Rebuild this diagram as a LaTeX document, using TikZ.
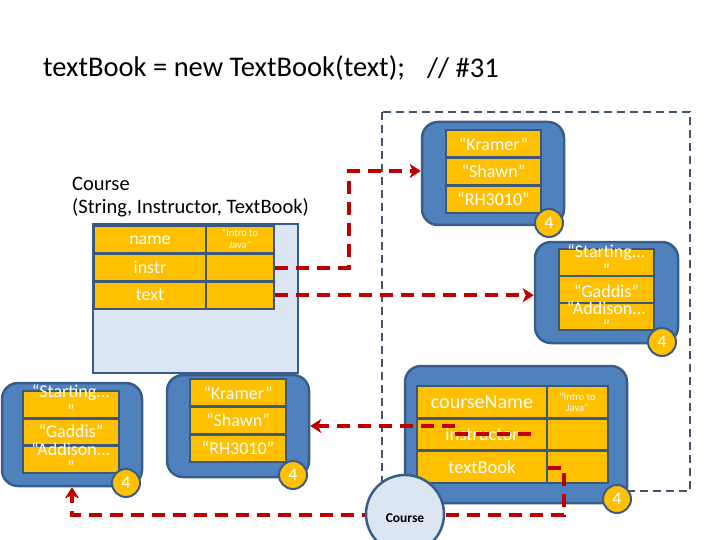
\documentclass[tikz,border=0pt]{standalone}
\usepackage{fontspec}
\setmainfont{Carlito}
\usetikzlibrary{arrows.meta}
\definecolor{objblue}{HTML}{4F81BD}
\definecolor{objline}{HTML}{385D8A}
\definecolor{cellyel}{HTML}{FFC000}
\definecolor{cellline}{HTML}{3B5878}
\definecolor{arrred}{HTML}{C00000}
\definecolor{framefill}{HTML}{DCE6F2}
\definecolor{dashblue}{HTML}{44546A}
\tikzset{
  obj/.style={draw=objline, fill=objblue, line width=2.5pt, rounded corners=16pt, inner sep=0pt},
  cell/.style={draw=cellline, fill=cellyel, line width=2.5pt, inner sep=0pt, text=white, font=\fontsize{18}{20}\selectfont},
  celltxt/.style={text=white, inner sep=0pt, font=\fontsize{18}{20}\selectfont},
  smalltxt/.style={text=white, inner sep=0pt, font=\fontsize{10.5}{11.5}\selectfont, align=center},
  badge/.style={circle, draw=objline, fill=cellyel, line width=2pt, minimum size=28pt, inner sep=0pt, text=white, font=\fontsize{18}{20}\selectfont},
  redarrow/.style={draw=arrred, line width=4pt, dash pattern=on 13pt off 8pt, -{Stealth[length=11pt,width=14pt,inset=3pt]}},
  label/.style={inner sep=0pt, anchor=west, text=black}
}
\begin{document}
\begin{tikzpicture}[x=1pt,y=-1pt]
\useasboundingbox (0,0) rectangle (720,540);
\fill[white] (0,0) rectangle (720,540);

% title
\node[label, font=\fontsize{28.5}{32}\selectfont] (title) at (43,68) {textBook = new TextBook(text);};
\node[label, font=\fontsize{28.5}{32}\selectfont] (comment) at (427,68) {// \#31};

% dashed frame
\draw[dashblue, line width=2.5pt, dash pattern=on 8pt off 5pt] (382,112) rectangle (690,491);

% Course label
\node[label, font=\fontsize{20.5}{23}\selectfont] (clabel1) at (72,184) {Course};
\node[label, font=\fontsize{20.5}{23}\selectfont] (clabel2) at (72,208) {(String, Instructor, TextBook)};

% Course frame
\node[draw=objline, fill=framefill, line width=2.5pt, minimum width=205pt, minimum height=149pt, inner sep=0pt] (cframe) at (195.5,298.5) {};
\node[cell, minimum width=112pt, minimum height=27.7pt] (cN1) at (150,239.8) {name};
\node[cell, minimum width=68pt, minimum height=27.7pt] (cN2) at (240,239.8) {};
\node[cell, minimum width=112pt, minimum height=27.7pt] (cI1) at (150,267.5) {instr};
\node[cell, minimum width=68pt, minimum height=27.7pt] (cI2) at (240,267.5) {};
\node[cell, minimum width=112pt, minimum height=27.7pt] (cT1) at (150,295.2) {text};
\node[cell, minimum width=68pt, minimum height=27.7pt] (cT2) at (240,295.2) {};
\node[smalltxt] (cNv) at (240,239) {“Intro to\\Java”};

% top instructor object
\node[obj, minimum width=142pt, minimum height=103pt] (iobj) at (493,173.5) {};
\node[cell, minimum width=95pt, minimum height=27.7pt] (i1) at (493.5,143.8) {“Kramer”};
\node[cell, minimum width=95pt, minimum height=27.7pt] (i2) at (493.5,171.5) {“Shawn”};
\node[cell, minimum width=95pt, minimum height=27.7pt] (i3) at (493.5,199.2) {“RH3010”};
\node[badge] (ib) at (549,223) {4};

% top book object
\node[obj, minimum width=143pt, minimum height=101pt] (bobj) at (606.5,292.5) {};
\node[cell, minimum width=95pt, minimum height=27pt] (b1) at (606.5,262.5) {};
\node[cell, minimum width=95pt, minimum height=27pt] (b2) at (606.5,289.5) {};
\node[cell, minimum width=95pt, minimum height=27pt] (b3) at (606.5,316.5) {};
\node[celltxt] (bt1) at (606.5,253) {“Starting...};
\node[celltxt] (bt2) at (606.5,270) {”};
\node[celltxt] (bt3) at (606.5,291) {“Gaddis”};
\node[celltxt] (bt4) at (606.5,308) {“Addison...};
\node[celltxt] (bt5) at (606.5,326) {”};
\node[badge] (bb) at (662,342) {4};

% bottom-left book copy
\node[obj, minimum width=140pt, minimum height=103pt] (lobj) at (72,434.5) {};
\node[cell, minimum width=96pt, minimum height=27.3pt] (l1) at (71,404.7) {};
\node[cell, minimum width=96pt, minimum height=27.3pt] (l2) at (71,432) {};
\node[cell, minimum width=96pt, minimum height=27.3pt] (l3) at (71,459.3) {};
\node[celltxt] (lt1) at (71,393) {“Starting...};
\node[celltxt] (lt2) at (71,411) {”};
\node[celltxt] (lt3) at (71,431) {“Gaddis”};
\node[celltxt] (lt4) at (71,449) {“Addison...};
\node[celltxt] (lt5) at (71,467) {”};
\node[badge] (lb) at (126,483) {4};

% bottom-middle instructor copy
\node[obj, minimum width=142pt, minimum height=102pt] (mobj) at (238,426) {};
\node[cell, minimum width=96pt, minimum height=27.7pt] (m1) at (238,392.8) {“Kramer”};
\node[cell, minimum width=96pt, minimum height=27.7pt] (m2) at (238,420.5) {“Shawn”};
\node[cell, minimum width=96pt, minimum height=27.7pt] (m3) at (238,448.2) {“RH3010”};
\node[badge] (mb) at (293,475) {4};

% course object
\node[obj, minimum width=222pt, minimum height=137pt] (cobj) at (516,434.5) {};
\node[cell, minimum width=130pt, minimum height=32.3pt, font=\fontsize{20}{22}\selectfont] (o1) at (482,402.2) {courseName};
\node[cell, minimum width=61pt, minimum height=32.3pt] (o1v) at (577.5,402.2) {};
\node[cell, minimum width=130pt, minimum height=32.3pt, font=\fontsize{18.5}{21}\selectfont] (o2) at (482,434.5) {instructor};
\node[cell, minimum width=61pt, minimum height=32.3pt] (o2v) at (577.5,434.5) {};
\node[cell, minimum width=130pt, minimum height=32.3pt, font=\fontsize{18.5}{21}\selectfont] (o3) at (482,466.8) {textBook};
\node[cell, minimum width=61pt, minimum height=32.3pt] (o3v) at (577.5,466.8) {};
\node[smalltxt] (o1t) at (577.5,402) {“Intro to\\Java”};
\node[badge] (ob) at (617,499) {4};

% connectors
\coordinate (k1) at (349,171);
\draw[redarrow] (cI2.east) -- (cI2.east -| k1) -- (k1) -- (iobj.west |- k1);
\draw[redarrow] (cT2.east) -- (cT2.east -| bobj.west);
\coordinate (s2) at (531,434);
\coordinate (k2) at (457,426);
\draw[redarrow] (s2) -- (k2 |- s2) -- (k2) -- (mobj.east |- k2);
\coordinate (s3) at (548,468);
\coordinate (k3) at (564,515);
\draw[redarrow] (s3) -- (k3 |- s3) -- (k3) -- (lobj.south |- k3) -- (lobj.south);

% Course circle
\node[circle, draw=objline, fill=framefill, line width=2.5pt, minimum size=78pt, inner sep=0pt] (course) at (405,514) {};
\node[inner sep=0pt, font=\bfseries\fontsize{13.5}{15}\selectfont] (coursetxt) at (405,518) {Course};
\end{tikzpicture}
\end{document}
